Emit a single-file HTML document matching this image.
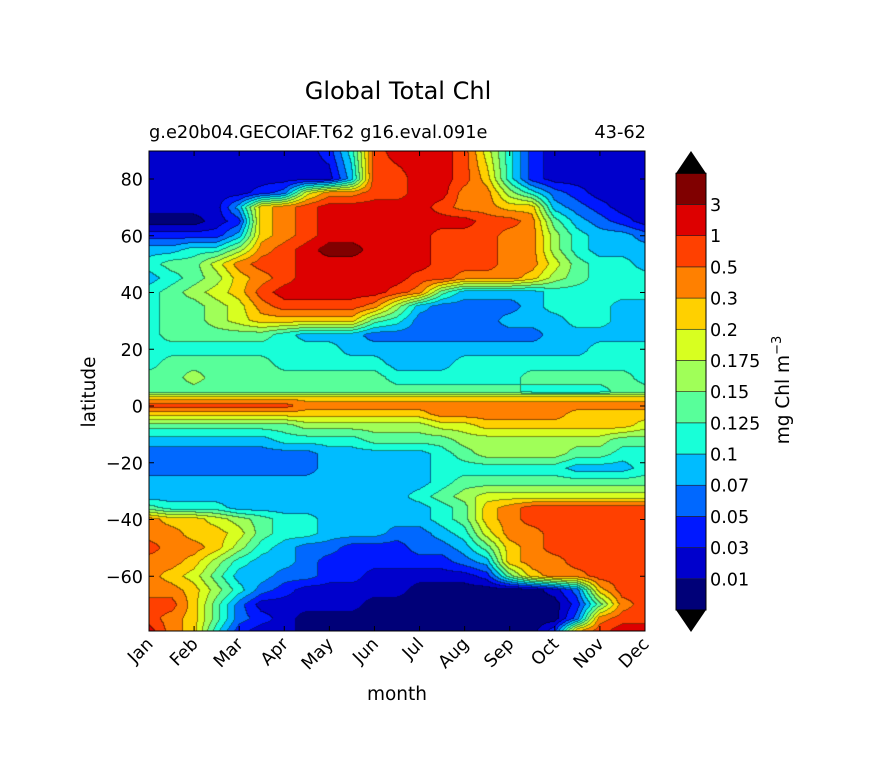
<!DOCTYPE html>
<html><head><meta charset="utf-8"><style>
html,body{margin:0;padding:0;background:#fff;}
body{width:876px;height:783px;position:relative;overflow:hidden;font-family:"DejaVu Sans","Liberation Sans",sans-serif;}
#plotcanvas{position:absolute;left:149px;top:151px;}
svg{position:absolute;left:0;top:0;}
text{font-family:"DejaVu Sans","Liberation Sans",sans-serif;}
</style></head><body>
<canvas id="plotcanvas" width="496" height="480"></canvas>
<svg id="chart" width="876" height="783"></svg>
<script>
// ---- chart data ----
const monthLabels = ["Jan","Feb","Mar","Apr","May","Jun","Jul","Aug","Sep","Oct","Nov","Dec"];
const latTicks = [80,60,40,20,0,-20,-40,-60];
const levelLabels = ["0.01","0.03","0.05","0.07","0.1","0.125","0.15","0.175","0.2","0.3","0.5","1","3"];
// half-month columns from Jan (0) to Dec (11)
const gridMonths = [0,0.5,1,1.5,2,2.5,3,3.5,4,4.5,5,5.5,6,6.5,7,7.5,8,8.5,9,9.5,10,10.5,11];
const gridLats = [90,80,75,70,65,60,55,50,45,40,35,30,25,20,15,10,5,3,0,-3,-7,-12,-17,-22,-27,-32,-36,-40,-45,-50,-55,-60,-65,-70,-75,-79];
// chlorophyll level-band index (0: <0.01 ... 13: >3) read per grid node
const chlBand = [
[1,1,1,1,1,1,1,1,2,5,11,12,12,12,11,8,5,2,1,1,1,1,1],
[1,1,1,1,1,1,1,1,1,4,11,11,12,12,11,9,5,2,1,1,1,1,1],
[1,1,1,1,1,2,3,8,10,10,11,11,12,12,10,10,7,5,3,2,1,1,1],
[1,1,1,1,4,9,10,11,12,12,12,12,12,11,10,10,9,9,4,3,2,1,1],
[0,0,0,1,2,9,10,11,12,12,12,12,12,12,12,11,11,10,6,4,3,2,1],
[2,2,2,2,4,9,10,11,12,12,12,12,12,11,11,11,10,10,7,5,4,4,3],
[4,4,5,5,7,10,11,12,13,13,12,12,12,11,11,11,10,10,7,5,4,4,4],
[5,6,6,8,10,11,11,12,12,12,12,12,12,11,11,11,10,10,8,6,5,5,4],
[4,5,6,7,9,10,11,12,12,12,12,12,11,11,10,10,10,9,7,6,5,5,5],
[5,6,7,8,9,11,12,12,12,12,12,11,10,6,4,4,4,4,5,5,5,5,5],
[5,6,6,7,8,10,11,11,11,11,10,7,4,3,3,3,3,4,5,5,5,4,4],
[5,6,6,7,8,9,9,9,9,9,6,5,3,3,3,3,4,4,4,5,5,4,4],
[5,6,6,6,6,6,5,4,4,4,3,3,3,3,3,3,3,3,4,4,4,4,4],
[5,5,5,5,5,5,5,5,5,4,4,4,4,4,4,4,4,4,4,4,5,5,5],
[5,6,6,6,6,6,5,5,5,5,5,4,4,4,5,5,5,5,5,5,5,5,5],
[6,6,7,6,6,6,6,6,6,6,6,5,5,5,5,5,5,6,6,6,6,6,5],
[6,6,6,6,6,6,6,6,6,6,6,6,6,6,6,6,6,5,5,5,5,6,6],
[9,9,9,9,9,9,9,9,9,9,9,9,9,9,9,9,9,9,9,9,9,9,9],
[11,11,11,11,11,11,11,10,10,10,10,10,10,10,10,10,10,10,10,10,10,10,10],
[9,9,9,9,9,9,9,9,9,9,9,9,9,10,10,10,10,10,10,9,9,9,9],
[6,6,6,6,6,6,6,7,7,7,7,7,7,8,8,9,9,9,9,9,9,9,8],
[4,4,4,4,4,4,5,5,5,5,6,6,6,6,7,7,7,7,7,7,7,6,6],
[3,3,3,3,3,3,3,3,4,4,4,4,4,5,6,7,7,7,7,6,6,5,5],
[3,3,3,3,3,3,3,3,4,4,4,4,4,5,5,5,5,5,5,4,4,4,5],
[4,4,4,4,4,4,4,4,4,4,4,4,4,5,6,6,6,6,6,6,6,6,6],
[4,4,4,4,4,4,4,4,4,4,4,4,5,6,7,8,8,8,8,8,8,8,8],
[6,5,5,5,4,4,4,4,4,4,4,4,4,5,6,9,10,11,11,11,11,11,11],
[10,9,9,8,7,6,5,5,4,4,4,4,4,5,6,9,10,11,11,11,11,11,11],
[10,10,9,9,8,6,5,5,4,4,4,3,3,4,5,8,10,10,11,11,11,11,11],
[11,10,10,9,7,5,4,3,3,2,2,2,3,3,4,6,9,10,11,11,11,11,11],
[10,10,9,7,5,4,4,3,2,2,2,2,2,2,3,4,9,10,10,11,11,11,11],
[10,9,8,6,4,4,3,3,2,2,1,1,1,1,1,2,6,9,10,10,11,11,11],
[10,10,9,7,5,3,2,1,1,1,1,1,0,0,0,0,0,0,1,3,9,11,11],
[11,11,9,6,3,1,1,1,1,1,0,0,0,0,0,0,0,0,0,2,6,10,11],
[11,10,9,6,3,2,1,0,0,0,0,0,0,0,0,0,0,0,0,3,10,11,11],
[12,10,9,5,2,1,1,0,0,0,0,0,0,0,0,0,0,0,2,9,11,12,12]
];
const bandColors = ["#000078","#0000cc","#0018ff","#0068ff","#00bcff","#18ffd8","#58ff9a","#a0ff58","#d8ff20","#ffd000","#ff8000","#ff4000","#dd0000","#800000"];

// ---- axes ----
const PX0=149, PX1=645, PY0=151, PY1=631;
function xOfMonth(m){return PX0 + m*(PX1-PX0)/11;}
function yOfLat(l){return 406 - l*(227/80);}
function monthOfX(x){return (x-PX0)*11/(PX1-PX0);}
function latOfY(y){return (406-y)*80/227;}

function sampleBand(m,lat){
  let ci=0; while(ci<gridMonths.length-2 && m>gridMonths[ci+1]) ci++;
  let tx=(m-gridMonths[ci])/(gridMonths[ci+1]-gridMonths[ci]); tx=Math.max(0,Math.min(1,tx));
  let ri=0; while(ri<gridLats.length-2 && lat<gridLats[ri+1]) ri++;
  let ty=(gridLats[ri]-lat)/(gridLats[ri]-gridLats[ri+1]); ty=Math.max(0,Math.min(1,ty));
  const a=chlBand[ri][ci]+0.5,b=chlBand[ri][ci+1]+0.5,c=chlBand[ri+1][ci]+0.5,d=chlBand[ri+1][ci+1]+0.5;
  const v=(a*(1-tx)+b*tx)*(1-ty)+(c*(1-tx)+d*tx)*ty;
  return Math.max(0,Math.min(13,Math.floor(v)));
}
function hex(c){return [parseInt(c.substr(1,2),16),parseInt(c.substr(3,2),16),parseInt(c.substr(5,2),16)];}
const rgb=bandColors.map(hex);
(function(){
  const cv=document.getElementById('plotcanvas');const ctx=cv.getContext('2d');
  const W=cv.width,H=cv.height;const img=ctx.createImageData(W,H);
  const bands=new Uint8Array(W*H);
  for(let j=0;j<H;j++){const lat=latOfY(PY0+j+0.5);
    for(let i=0;i<W;i++){bands[j*W+i]=sampleBand(monthOfX(PX0+i+0.5),lat);}}
  for(let j=0;j<H;j++)for(let i=0;i<W;i++){
    const k=j*W+i,b=bands[k];let c=rgb[b];
    let edge=(i<W-1&&bands[k+1]!==b)||(j<H-1&&bands[k+W]!==b);
    const f=edge?0.55:1;
    img.data[k*4]=c[0]*f;img.data[k*4+1]=c[1]*f;img.data[k*4+2]=c[2]*f;img.data[k*4+3]=255;}
  ctx.putImageData(img,0,0);
})();

const NS="http://www.w3.org/2000/svg";const svg=document.getElementById('chart');
function mk(tag,attrs,text){const e=document.createElementNS(NS,tag);for(const k in attrs)e.setAttribute(k,attrs[k]);if(text!==undefined)e.textContent=text;svg.appendChild(e);return e;}

let t;
t=mk('text',{x:398,y:99,'text-anchor':'middle','font-size':24,fill:'#000'},'Global Total Chl');


t=mk('text',{x:149,y:138,'font-size':17.8,fill:'#000'},'g.e20b04.GECOIAF.T62 g16.eval.091e');


t=mk('text',{x:646,y:138,'text-anchor':'end','font-size':17.8,fill:'#000'},'43-62');



let fr=mk('rect',{x:PX0,y:PY0,width:PX1-PX0,height:PY1-PY0,fill:'none',stroke:'#000','stroke-width':1});



latTicks.forEach(l=>{const y=yOfLat(l);
  let a=mk('line',{x1:PX0,x2:PX0+5,y1:y,y2:y,stroke:'#000'});
  
  
  let b=mk('line',{x1:PX1-5,x2:PX1,y1:y,y2:y,stroke:'#000'});
  
  
  let lb=mk('text',{x:143,y:y+6.5,'text-anchor':'end','font-size':17.6,fill:'#000'},(l<0?'\u2212'+(-l):String(l)));
  
  
});
monthLabels.forEach((m,i)=>{const x=xOfMonth(i);
  let a=mk('line',{x1:x,x2:x,y1:PY1-5,y2:PY1,stroke:'#000'});
  
  
  let b=mk('line',{x1:x,x2:x,y1:PY0,y2:PY0+5,stroke:'#000'});
  
  
  let lb=mk('text',{x:x+5,y:PY1+14,'text-anchor':'end','font-size':17.6,fill:'#000',transform:'rotate(-45 '+(x+5)+' '+(PY1+14)+')'},m);
  
  
});
t=mk('text',{x:397,y:700,'text-anchor':'middle','font-size':18.5,fill:'#000'},'month');


t=mk('text',{x:95,y:392,'text-anchor':'middle','font-size':18.5,fill:'#000',transform:'rotate(-90 95 392)'},'latitude');



// colorbar
const CB0=173.3,CB1=610,CBX=676,CBW=30;const seg=(CB1-CB0)/14;
let tri=mk('polygon',{points:(CBX)+','+CB0+' '+(CBX+CBW/2)+',151 '+(CBX+CBW)+','+CB0,fill:'#000'});


tri=mk('polygon',{points:(CBX)+','+CB1+' '+(CBX+CBW/2)+',632 '+(CBX+CBW)+','+CB1,fill:'#000'});


bandColors.forEach((c,i)=>{const y=CB1-(i+1)*seg;
  let r=mk('rect',{x:CBX,y:y,width:CBW,height:seg,fill:c,stroke:'#222','stroke-width':0.6});
  
  
});
let cbf=mk('rect',{x:CBX,y:CB0,width:CBW,height:CB1-CB0,fill:'none',stroke:'#000'});


levelLabels.forEach((s,i)=>{const y=CB1-(i+1)*seg;
  let lb=mk('text',{x:710,y:y+6.5,'font-size':17.6,fill:'#000'},s);
  
  
});
t=mk('text',{x:789,y:390,'text-anchor':'middle','font-size':18.5,fill:'#000',transform:'rotate(-90 789 390)'},'');


t.appendChild(document.createTextNode('mg Chl m'));
const sup=document.createElementNS(NS,'tspan');sup.setAttribute('dy','-8');sup.setAttribute('font-size','13');sup.textContent='\u22123';t.appendChild(sup);
</script>
</body></html>
